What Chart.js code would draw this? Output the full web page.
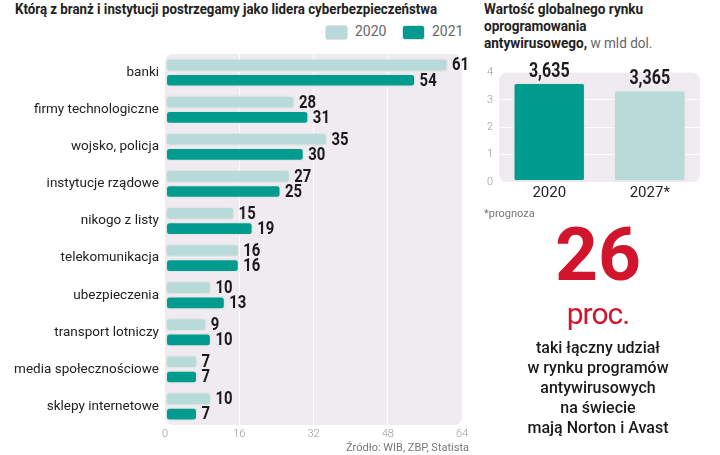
<!DOCTYPE html>
<html lang="pl">
<head>
<meta charset="utf-8">
<script src="https://cdn.jsdelivr.net/npm/chart.js@4"></script>
<style>
  body { margin: 0; width: 720px; height: 455px; background: #fff; position: relative; overflow: hidden; font-family: Roboto, sans-serif; color: #222; }
  .abs { position: absolute; white-space: nowrap; }
  .cond { font-weight: bold; transform-origin: 0 0; display: inline-block; }
  .legbox { position: absolute; width: 21px; height: 13px; border-radius: 3px; border: 1px solid #e2e2e2; }
  .legtxt { position: absolute; font-size: 14px; color: #666; }
</style>
</head>
<body>
<div id="title1" class="abs cond" style="left:15px; top:1px; font-size:14.5px; color:#222;">Którą z branż i instytucji postrzegamy jako lidera cyberbezpieczeństwa</div>
<div class="legbox" style="left:325px; top:25px; background:#b8dad8;"></div>
<div class="legtxt" style="left:355px; top:23px;">2020</div>
<div class="legbox" style="left:402px; top:25px; background:#009b8f;"></div>
<div class="legtxt" style="left:432px; top:23px;">2021</div>
<canvas id="left" width="480" height="415" class="abs" style="left:0; top:40px;"></canvas>
<div class="abs" style="right:251px; top:441px; font-size:11px; color:#777;">Źródło: WIB, ZBP, Statista</div>

<div class="abs cond rt" style="left:484px; top:1px; font-size:14.5px; color:#222;">Wartość globalnego rynku</div>
<div class="abs cond rt" style="left:484px; top:18px; font-size:14.5px; color:#222;">oprogramowania</div>
<div class="abs cond rt" style="left:484px; top:35px; font-size:14.5px; color:#222;">antywirusowego, <span style="font-weight:normal; color:#666;">w mld dol.</span></div>
<canvas id="right" width="250" height="145" class="abs" style="left:470px; top:60px;"></canvas>
<div class="abs" style="left:484px; top:207px; font-size:11px; color:#777;">*prognoza</div>
<div class="abs" style="left:480px; width:236px; text-align:center; top:210px; font-size:75px; font-weight:bold; color:#d0152c; line-height:88px;">26</div>
<div class="abs" style="left:480px; width:236px; text-align:center; top:296px; font-size:30px; color:#d0152c; letter-spacing:-1px;">proc.</div>
<div class="abs" style="left:480px; width:236px; text-align:center; top:338px; font-size:16px; line-height:20px; font-weight:500; color:#1a1a1a;">taki łączny udział<br>w rynku programów<br>antywirusowych<br>na świecie<br>mają Norton i Avast</div>

<script>
// Dane - wykres poziomy
const categories = ['banki', 'firmy technologiczne', 'wojsko, policja', 'instytucje rządowe', 'nikogo z listy',
    'telekomunikacja', 'ubezpieczenia', 'transport lotniczy', 'media społecznościowe', 'sklepy internetowe'];
const values2020 = [61, 28, 35, 27, 15, 16, 10, 9, 7, 10];
const values2021 = [54, 31, 30, 25, 19, 16, 13, 10, 7, 7];
const xTicks = [0, 16, 32, 48, 64];

// Dane - rynek antywirusów
const marketYears = ['2020', '2027*'];
const marketValues = [3.635, 3.365];
const marketTicks = [0, 1, 2, 3, 4];

const lightTeal = '#b8dad8';
const darkTeal = '#009b8f';
const plotColor = '#efebf0';

// Zwężenie tytułów (brak kroju condensed)
const t1 = document.getElementById('title1');
t1.style.transform = 'scaleX(' + (422 / t1.offsetWidth) + ')';
const rt = document.querySelectorAll('.rt');
const k = 159 / rt[0].offsetWidth;
rt.forEach(el => { el.style.transform = 'scaleX(' + k + ')'; });

// Tło obszaru wykresu z zaokrąglonymi rogami
const plotBg = {
    id: 'plotBg',
    beforeDraw(chart) {
        const { ctx, chartArea: a } = chart;
        ctx.save();
        ctx.fillStyle = plotColor;
        ctx.beginPath();
        ctx.roundRect(a.left, a.top, a.width, a.height, 8);
        ctx.fill();
        ctx.restore();
    }
};

// Etykiety wartości przy słupkach (zwężone poziomo)
const valueLabels = {
    id: 'valueLabels',
    afterDatasetsDraw(chart, args, opts) {
        const ctx = chart.ctx;
        chart.data.datasets.forEach((ds, i) => {
            chart.getDatasetMeta(i).data.forEach((bar, j) => {
                const text = opts.format(ds.data[j]);
                ctx.save();
                ctx.fillStyle = '#1a1a1a';
                ctx.font = 'bold ' + opts.size + 'px Roboto, sans-serif';
                if (opts.horizontal) {
                    ctx.translate(bar.x + 4, bar.y + 1);
                    ctx.scale(opts.squeeze, 1);
                    ctx.textAlign = 'left';
                    ctx.textBaseline = 'middle';
                } else {
                    ctx.translate(bar.x, bar.y - 1);
                    ctx.scale(opts.squeeze, 1);
                    ctx.textAlign = 'center';
                    ctx.textBaseline = 'bottom';
                }
                ctx.fillText(text, 0, 0);
                ctx.restore();
            });
        });
    }
};

const gridColor = (c) => (c.index === 0 || c.index === c.scale.ticks.length - 1)
    ? 'rgba(0,0,0,0)' : 'rgba(255,255,255,0.85)';

new Chart(document.getElementById('left'), {
    type: 'bar',
    data: {
        labels: categories,
        datasets: [
            { label: '2020', data: values2020, backgroundColor: lightTeal },
            { label: '2021', data: values2021, backgroundColor: darkTeal }
        ]
    },
    options: {
        indexAxis: 'y',
        responsive: false,
        animation: false,
        layout: { padding: { top: 7, right: 18, bottom: 12, left: 0 } },
        datasets: {
            bar: {
                categoryPercentage: 0.82,
                barPercentage: 0.9,
                borderColor: '#e6e6e6',
                borderWidth: 1.5,
                borderRadius: 4,
                borderSkipped: false
            }
        },
        scales: {
            x: {
                min: 0, max: 64,
                afterBuildTicks: (s) => { s.ticks = xTicks.map(v => ({ value: v })); },
                afterFit: (s) => { s.height = 18; },
                border: { display: false },
                grid: { color: gridColor, lineWidth: 1, drawTicks: false },
                ticks: { color: '#999', font: { family: 'Roboto', size: 11, weight: 300 }, padding: 3 }
            },
            y: {
                afterFit: (s) => { s.width = 165; },
                border: { display: false },
                grid: { display: false, drawTicks: false },
                ticks: { color: '#222', font: { family: 'Roboto', size: 13.5 }, padding: 6 }
            }
        },
        plugins: {
            legend: { display: false },
            tooltip: { enabled: false },
            valueLabels: { horizontal: true, size: 17.5, squeeze: 0.85, format: v => String(v) }
        }
    },
    plugins: [plotBg, valueLabels]
});

new Chart(document.getElementById('right'), {
    type: 'bar',
    data: {
        labels: marketYears,
        datasets: [{
            data: marketValues,
            backgroundColor: [darkTeal, lightTeal],
            borderColor: '#e8e8e8',
            borderWidth: 1.5,
            borderRadius: 3,
            borderSkipped: false,
            categoryPercentage: 1,
            barPercentage: 0.72
        }]
    },
    options: {
        responsive: false,
        animation: false,
        layout: { padding: { top: 10, right: 20, bottom: 0, left: 0 } },
        scales: {
            x: {
                afterFit: (s) => { s.height = 23; },
                border: { display: false },
                grid: { display: false, drawTicks: false },
                ticks: { color: '#222', font: { family: 'Roboto', size: 15 }, padding: 2 }
            },
            y: {
                min: 0, max: 4,
                afterBuildTicks: (s) => { s.ticks = marketTicks.map(v => ({ value: v })); },
                afterFit: (s) => { s.width = 29; },
                border: { display: false },
                grid: { color: gridColor, drawTicks: false },
                ticks: { color: '#999', font: { family: 'Roboto', size: 11, weight: 300 }, padding: 6 }
            }
        },
        plugins: {
            legend: { display: false },
            tooltip: { enabled: false },
            valueLabels: { horizontal: false, size: 20, squeeze: 0.8, format: v => v.toFixed(3).replace('.', ',') }
        }
    },
    plugins: [plotBg, valueLabels]
});
</script>
</body>
</html>
